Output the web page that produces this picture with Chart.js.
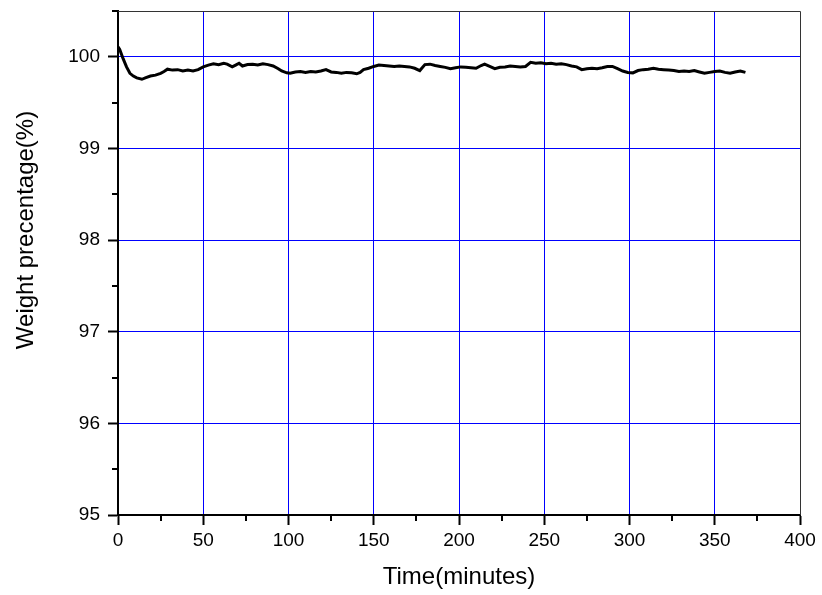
<!DOCTYPE html>
<html>
<head>
<meta charset="utf-8">
<script src="https://cdn.jsdelivr.net/npm/chart.js@4.4.0/dist/chart.umd.min.js"></script>
<style>
  html, body { margin: 0; padding: 0; background: #fff; }
  #wrap { width: 822px; height: 595px; }
</style>
</head>
<body>
<div id="wrap"><canvas id="c" width="822" height="595"></canvas></div>
<script>
// ---- data ----
const timeMin = [0,1,3,5,7,9,11,14,16,19,22,25,27,29,32,35,38,41,44,47,50,53,56,59,62,64,67,69,71,73,76,79,82,85,88,91,94,96,99,101,104,107,110,113,116,119,122,125,128,131,134,137,140,142,144,147,150,153,156,159,162,165,168,171,174,177,180,183,186,189,192,195,198,201,204,207,210,213,215,218,221,224,227,230,233,236,239,242,245,248,251,254,257,260,263,266,269,272,275,278,281,284,287,290,293,296,299,302,305,308,311,314,317,320,323,326,329,332,335,338,341,344,347,350,353,356,359,362,365,368];
const weightPct = [100.11,100.08,99.98,99.89,99.82,99.79,99.77,99.755,99.77,99.79,99.80,99.82,99.84,99.865,99.855,99.86,99.845,99.855,99.845,99.86,99.89,99.91,99.925,99.915,99.93,99.92,99.89,99.91,99.93,99.90,99.915,99.92,99.91,99.925,99.915,99.90,99.87,99.845,99.825,99.82,99.835,99.84,99.83,99.84,99.835,99.845,99.86,99.835,99.83,99.82,99.83,99.825,99.815,99.83,99.86,99.875,99.895,99.91,99.905,99.90,99.895,99.90,99.895,99.89,99.875,99.85,99.915,99.92,99.905,99.895,99.885,99.87,99.88,99.89,99.885,99.88,99.875,99.905,99.92,99.895,99.87,99.885,99.89,99.90,99.895,99.89,99.895,99.94,99.93,99.935,99.925,99.93,99.92,99.925,99.915,99.90,99.89,99.86,99.87,99.875,99.87,99.88,99.895,99.895,99.87,99.845,99.83,99.825,99.85,99.86,99.865,99.875,99.865,99.86,99.855,99.85,99.84,99.845,99.84,99.85,99.835,99.82,99.83,99.84,99.845,99.83,99.82,99.835,99.845,99.83];
const xTicks = [0,50,100,150,200,250,300,350,400];
const yTicks = [95,96,97,98,99,100];
const xMinorTicks = [25,75,125,175,225,275,325,375];
const yMinorTicks = [95.5,96.5,97.5,98.5,99.5,100.5];
const xTitle = 'Time(minutes)';
const yTitle = 'Weight precentage(%)';

const points = timeMin.map((t, i) => ({ x: t, y: weightPct[i] }));
const FONT = "'Liberation Sans', Arial, sans-serif";

const decor = {
  id: 'decor',
  afterDraw(chart) {
    const { ctx, chartArea: a, scales: { x, y } } = chart;
    ctx.save();
    ctx.strokeStyle = '#000';
    ctx.lineWidth = 2;
    ctx.beginPath();
    xMinorTicks.forEach(v => {
      const px = Math.round(x.getPixelForValue(v));
      ctx.moveTo(px, a.bottom);
      ctx.lineTo(px, a.bottom + 6);
    });
    yMinorTicks.forEach(v => {
      const py = Math.round(y.getPixelForValue(v));
      ctx.moveTo(a.left, py);
      ctx.lineTo(a.left - 6, py);
    });
    ctx.stroke();
    // top and right frame
    ctx.strokeStyle = '#333';
    ctx.lineWidth = 1;
    ctx.beginPath();
    ctx.moveTo(a.left, Math.round(a.top) + 0.5);
    ctx.lineTo(Math.round(a.right) + 0.5, Math.round(a.top) + 0.5);
    ctx.lineTo(Math.round(a.right) + 0.5, a.bottom);
    ctx.stroke();
    // y title
    ctx.translate(26, 230);
    ctx.rotate(-Math.PI / 2);
    ctx.fillStyle = '#000';
    ctx.font = "24px " + FONT;
    ctx.textAlign = 'center';
    ctx.textBaseline = 'middle';
    ctx.fillText(yTitle, 0, 0);
    ctx.restore();
  }
};

new Chart(document.getElementById('c'), {
  type: 'line',
  data: {
    datasets: [{
      data: points,
      borderColor: '#000',
      borderWidth: 3,
      pointRadius: 0,
      tension: 0,
      fill: false
    }]
  },
  options: {
    responsive: false,
    animation: false,
    devicePixelRatio: 1,
    layout: { padding: { top: 11, right: 22, left: 0, bottom: 0 } },
    plugins: { legend: { display: false }, tooltip: { enabled: false } },
    scales: {
      x: {
        type: 'linear',
        min: 0, max: 400,
        afterBuildTicks: s => { s.ticks = xTicks.map(v => ({ value: v })); },
        afterFit: s => { s.height = 80; s.paddingLeft = 0; s.paddingRight = 0; },
        grid: {
          color: c => (c.tick && (c.tick.value === 0 || c.tick.value === 400)) ? 'rgba(0,0,0,0)' : '#0000ff',
          lineWidth: 1,
          tickColor: '#000',
          tickWidth: 2,
          tickLength: 10
        },
        border: { display: true, color: '#000', width: 2 },
        ticks: { color: '#000', font: { family: FONT, size: 19 }, padding: 4, maxRotation: 0 },
        title: { display: true, text: xTitle, color: '#000', font: { family: FONT, size: 24 }, padding: { top: 0, bottom: 3 } }
      },
      y: {
        type: 'linear',
        min: 95, max: 100.5,
        afterBuildTicks: s => { s.ticks = yTicks.map(v => ({ value: v })); },
        afterFit: s => { s.width = 118; s.paddingTop = 0; s.paddingBottom = 0; },
        grid: {
          color: c => (c.tick && c.tick.value === 95) ? 'rgba(0,0,0,0)' : '#0000ff',
          lineWidth: 1,
          tickColor: '#000',
          tickWidth: 2,
          tickLength: 10
        },
        border: { display: true, color: '#000', width: 2 },
        ticks: { color: '#000', font: { family: FONT, size: 19 }, padding: 8 }
      }
    }
  },
  plugins: [decor]
});
</script>
</body>
</html>
